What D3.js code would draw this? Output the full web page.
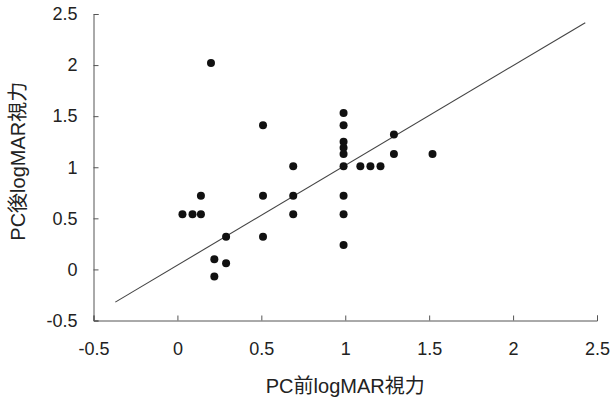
<!DOCTYPE html>
<html>
<head>
<meta charset="utf-8">
<script src="https://cdn.jsdelivr.net/npm/d3@7"></script>
<style>
  body { margin: 0; background: #fff; }
  svg text { font-family: "Liberation Sans", Arial, "Noto Sans CJK JP", sans-serif; fill: #222; }
</style>
</head>
<body>
<svg id="canvas" width="613" height="402"></svg>
<script>
// pre / post logMAR values
let preVA  = [0.20, 0.51, 0.69, 0.14, 0.51, 0.69, 0.03, 0.09, 0.14, 0.69,
              0.29, 0.51, 0.22, 0.29, 0.22,
              0.99, 0.99, 0.99, 0.99, 0.99, 0.99, 1.09, 1.15, 1.21, 1.29, 1.29, 1.52,
              0.99, 0.99, 0.99]
let postVA = [2.02, 1.41, 1.01, 0.72, 0.72, 0.72, 0.54, 0.54, 0.54, 0.54,
              0.32, 0.32, 0.10, 0.06, -0.07,
              1.53, 1.41, 1.25, 1.19, 1.13, 1.01, 1.01, 1.01, 1.01, 1.32, 1.13, 1.13,
              0.72, 0.54, 0.24]

// regression line end points
let fitX = [-0.37, 2.43]
let fitY = [-0.32, 2.415]

let xTicks = [-0.5, 0, 0.5, 1, 1.5, 2, 2.5]
let yTicks = [-0.5, 0, 0.5, 1, 1.5, 2, 2.5]

let canvas = d3.select('#canvas')

let xScale = d3.scaleLinear().domain([-0.5, 2.5]).range([93.5, 597])
let yScale = d3.scaleLinear().domain([-0.5, 2.5]).range([320.5, 14])

// plain hyphen for negatives, like the original
let fmt = (d) => String(d)

let xAxis = d3.axisBottom(xScale).tickValues(xTicks).tickFormat(fmt)
                .tickSize(-5).tickPadding(22)
let yAxis = d3.axisLeft(yScale).tickValues(yTicks).tickFormat(fmt)
                .tickSize(-5).tickPadding(16)

let gx = canvas.append('g')
        .attr('transform', 'translate(0,' + yScale(-0.5) + ')')
        .call(xAxis)
let gy = canvas.append('g')
        .attr('transform', 'translate(' + xScale(-0.5) + ',0)')
        .call(yAxis)

canvas.selectAll('.domain, .tick line').attr('stroke', '#555')
canvas.selectAll('.tick text')
        .style('font-family', '"Liberation Sans", Arial, sans-serif')
        .style('font-size', '18px').attr('fill', '#222')

// fitted line
canvas.append('line')
        .attr('x1', xScale(fitX[0])).attr('y1', yScale(fitY[0]))
        .attr('x2', xScale(fitX[1])).attr('y2', yScale(fitY[1]))
        .attr('stroke', '#444').attr('stroke-width', 1.1)

let points = preVA.map((v, i) => ({pre: v, post: postVA[i]}))

canvas.selectAll('circle')
        .data(points)
        .enter()
        .append('circle')
        .attr('cx', (d) => xScale(d.pre))
        .attr('cy', (d) => yScale(d.post))
        .attr('r', 4)
        .attr('fill', '#111')

// axis titles
canvas.append('text')
        .attr('x', (xScale.range()[0] + xScale.range()[1]) / 2)
        .attr('y', 393)
        .attr('text-anchor', 'middle')
        .style('font-size', '20px')
        .text('PC前logMAR視力')

canvas.append('text')
        .attr('transform', 'translate(25,' + ((yScale.range()[0] + yScale.range()[1]) / 2 - 6) + ') rotate(-90)')
        .attr('text-anchor', 'middle')
        .style('font-size', '20px')
        .text('PC後logMAR視力')
</script>
</body>
</html>
